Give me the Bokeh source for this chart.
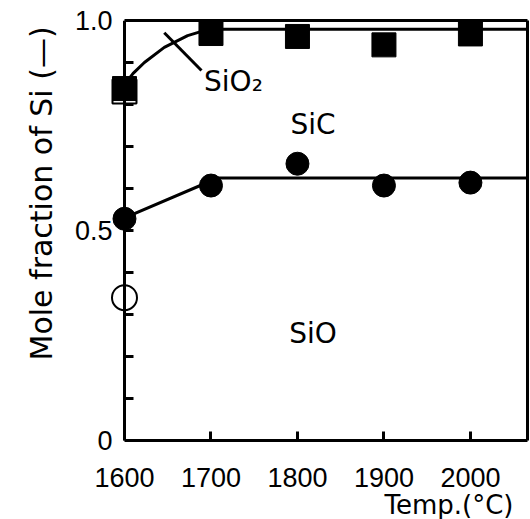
from bokeh.plotting import figure
from bokeh.models import FixedTicker, Label, Range1d, LinearAxis, Title
from bokeh.embed import file_html
from bokeh.resources import INLINE

# ---- data ----
temps = [1600, 1700, 1800, 1900, 2000]
square_frac = [0.838, 0.969, 0.962, 0.942, 0.968]      # filled squares
circle_frac = [0.528, 0.607, 0.659, 0.607, 0.614]      # filled circles
open_sq_temp = [1600]
open_sq_frac = [0.831]
open_circ_temp = [1600]
open_circ_frac = [0.34]

# SiO2 / SiC boundary curve
bnd1_t = [1600, 1610, 1623, 1646, 1673, 1692, 1706, 2066]
bnd1_f = [0.848, 0.874, 0.900, 0.936, 0.964, 0.976, 0.979, 0.979]
# SiC / SiO boundary
bnd2_t = [1600, 1708, 2066]
bnd2_f = [0.530, 0.625, 0.625]
# pointer for SiO2 label
ptr_t = [1646, 1689]
ptr_f = [0.971, 0.881]

x_ticks = [1600, 1700, 1800, 1900, 2000]
y_ticks = [0, 0.5, 1.0]
y_tick_labels = ["0", "0.5", "1.0"]
y_minor = [0.1, 0.2, 0.3, 0.4, 0.6, 0.7, 0.8, 0.9]

X_MIN, X_MAX = 1600, 2066

TICK_FONT = "Liberation Sans"
TXT_FONT = "DejaVu Sans"

p = figure(width=530, height=519, output_backend="svg", toolbar_location=None,
           x_range=Range1d(1581.5, X_MAX), y_range=Range1d(0, 1.0),
           x_axis_location=None, y_axis_location=None,
           min_border_left=108, min_border_right=3, min_border_top=20,
           min_border_bottom=79)
p.grid.visible = False
p.background_fill_color = "white"
p.border_fill_color = "white"
p.outline_line_color = None


def style(ax):
    ax.axis_line_width = 3
    ax.axis_line_color = "black"
    ax.major_tick_in = 9
    ax.major_tick_out = 0
    ax.minor_tick_in = 9
    ax.minor_tick_out = 0
    ax.major_tick_line_width = 3
    ax.minor_tick_line_width = 3
    ax.major_label_text_font = TICK_FONT
    ax.major_label_text_font_size = "27px"
    ax.major_label_text_color = "black"


xaxis = LinearAxis(ticker=FixedTicker(ticks=x_ticks), bounds=(X_MIN, X_MAX),
                   major_label_standoff=27)
style(xaxis)
p.add_layout(xaxis, "below")

# y tick labels (at frame edge, no line)
ylab = LinearAxis(ticker=FixedTicker(ticks=y_ticks), major_label_standoff=-4,
                  major_label_overrides={t: l for t, l in zip(y_ticks, y_tick_labels)})
style(ylab)
ylab.axis_line_color = None
ylab.major_tick_line_color = None
ylab.minor_tick_line_color = None
p.add_layout(ylab, "left")

# y axis line + all ticks at T = 1600 (ticks drawn as unlabeled minor ticks)
yline = LinearAxis(ticker=FixedTicker(ticks=[], minor_ticks=sorted(y_ticks + y_minor)),
                   fixed_location=X_MIN, major_label_standoff=0)
style(yline)
p.add_layout(yline, "left")

# frame top and right edges
top = LinearAxis(ticker=FixedTicker(ticks=[]), bounds=(X_MIN, X_MAX),
                 major_label_standoff=0)
style(top)
p.add_layout(top, "above")
right = LinearAxis(ticker=FixedTicker(ticks=[]), major_label_standoff=0)
style(right)
p.add_layout(right, "right")

# boundaries
p.line(bnd1_t, bnd1_f, line_color="black", line_width=3)
p.line(bnd2_t, bnd2_f, line_color="black", line_width=3)
p.line(ptr_t, ptr_f, line_color="black", line_width=3)

# markers
p.scatter(open_sq_temp, open_sq_frac, marker="square", size=24,
          fill_color="white", line_color="black", line_width=2)
p.scatter(temps, square_frac, marker="square", size=24,
          fill_color="black", line_color="black")
p.scatter(temps, circle_frac, marker="circle", size=23,
          fill_color="black", line_color="black")
p.scatter(open_circ_temp, open_circ_frac, marker="circle", size=25,
          fill_color="white", line_color="black", line_width=2)

# region labels
p.add_layout(Label(x=1692, y=0.855, text="SiO₂", text_font=TXT_FONT,
                   text_font_size="28px", text_align="left",
                   text_baseline="middle", text_color="black"))
p.add_layout(Label(x=1818, y=0.752, text="SiC", text_font=TXT_FONT,
                   text_font_size="28px", text_align="center",
                   text_baseline="middle", text_color="black"))
p.add_layout(Label(x=1818, y=0.254, text="SiO", text_font=TXT_FONT,
                   text_font_size="28px", text_align="center",
                   text_baseline="middle", text_color="black"))

# axis titles
p.add_layout(Title(text="Temp.(°C)", align="right", offset=14, standoff=-3,
                   text_font=TXT_FONT, text_font_size="26px",
                   text_font_style="normal", text_color="black"), "below")
p.add_layout(Title(text="Mole fraction of Si (—)", align="left", offset=80,
                   standoff=25, text_font=TXT_FONT, text_font_size="30px",
                   text_font_style="normal", text_color="black"), "left")

open("out.html", "w").write(file_html(p, INLINE))
